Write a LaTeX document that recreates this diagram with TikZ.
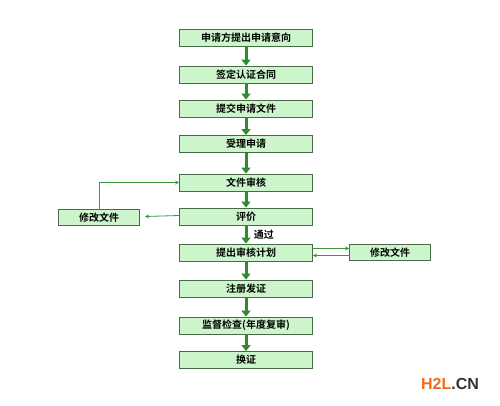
\documentclass[tikz,border=0pt]{standalone}
\usepackage{fontspec}
\newfontfamily\cjk{Noto Sans CJK SC}[BoldFont={* Bold}]
\newfontfamily\markfont{Liberation Sans}
\usetikzlibrary{arrows.meta}
\definecolor{boxfill}{HTML}{CCF5CC}
\definecolor{boxline}{HTML}{4A6A4A}
\definecolor{arrowgreen}{HTML}{2E8B2E}
\definecolor{thingreen}{HTML}{3A9A3A}
\definecolor{hlorange}{HTML}{F26A1B}
\definecolor{hlgrey}{HTML}{333333}
\begin{document}
\begin{tikzpicture}[x=1pt, y=-1pt,
	mainbox/.style = {draw=boxline, fill=boxfill, line width=0.8pt, minimum width=133pt, minimum height=17pt, inner sep=0pt, font=\cjk\bfseries\fontsize{10}{12}\selectfont},
	sidebox/.style = {mainbox, minimum width=81pt, minimum height=16pt},
	thick arrow/.style = {draw=arrowgreen, line width=3pt, -{Triangle[width=9pt,length=6pt]}},
	thin arrow/.style = {draw=thingreen, line width=0.8pt, -{Stealth[width=4pt,length=4pt]}}]
	
	\useasboundingbox (0,0) rectangle (500,406);
	
	\node[mainbox] (apply) at (246,38) {申请方提出申请意向};
	\node[mainbox] (contract) at (246,74.5) {签定认证合同};
	\node[mainbox] (submit) at (246,108.5) {提交申请文件};
	\node[mainbox] (accept) at (246,144) {受理申请};
	\node[mainbox] (review) at (246,182.5) {文件审核};
	\node[mainbox] (assess) at (246,216.5) {评价};
	\node[mainbox] (plan) at (246,252.5) {提出审核计划};
	\node[mainbox] (register) at (246,288.5) {注册发证};
	\node[mainbox] (inspect) at (246,325.5) {监督检查(年度复审)};
	\node[mainbox] (renew) at (246,360) {换证};
	
	\node[sidebox] (modleft) at (99,217.5) {修改文件};
	\node[sidebox] (modright) at (390,252.5) {修改文件};
	
	\draw[thick arrow] (apply) -- (contract);
	\draw[thick arrow] (contract) -- (submit);
	\draw[thick arrow] (submit) -- (accept);
	\draw[thick arrow] (accept) -- (review);
	\draw[thick arrow] (review) -- (assess);
	\draw[thick arrow] (assess) -- node[right=3pt, font=\cjk\bfseries\fontsize{10}{12}\selectfont, text=black] (pass) {通过} (plan);
	\draw[thick arrow] (plan) -- (register);
	\draw[thick arrow] (register) -- (inspect);
	\draw[thick arrow] (inspect) -- (renew);
	
	% side loops
	\draw[thin arrow] ([yshift=1pt]assess.west) -- ([xshift=5pt,yshift=1pt]modleft.east);
	\draw[thin arrow] (modleft.north) |- (review.west);
	\draw[thin arrow] ([yshift=4pt]plan.east) -- ([yshift=4pt]modright.west);
	\draw[thin arrow] ([yshift=-3pt]modright.west) -- ([yshift=-3pt]plan.east);
	
	% watermark
	\node[font=\markfont\bfseries\fontsize{16}{19}\selectfont, inner sep=0pt] (mark) at (450,384) {\textcolor{hlorange}{H2L}\textcolor{hlgrey}{.CN}};
\end{tikzpicture}
\end{document}
